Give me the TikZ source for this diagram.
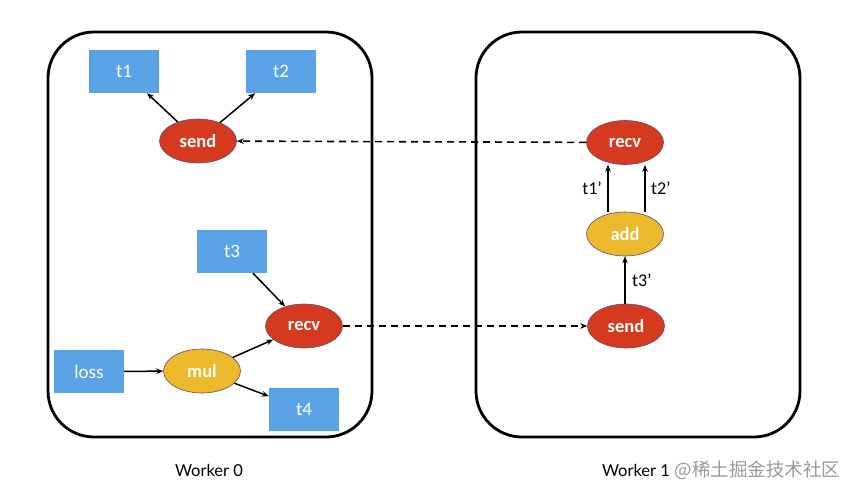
\documentclass[tikz,border=0pt]{standalone}
\usepackage{fontspec}
\setmainfont{Carlito}
\newfontfamily\latofont{Lato}
\newfontfamily\cjkfont{Noto Sans CJK SC}
\usetikzlibrary{arrows.meta,shapes.geometric}
\definecolor{tblue}{HTML}{5AA3E6}
\definecolor{tred}{HTML}{D63A1E}
\definecolor{tyellow}{HTML}{EBB92B}
\definecolor{tedge}{HTML}{6A4A6A}
\tikzset{
  worker/.style={draw=black,line width=2.8pt,rounded corners=46pt},
  tensor/.style={fill=tblue,text=white,minimum width=70pt,minimum height=43pt,inner sep=0pt,font=\fontsize{19}{21}\selectfont},
  opred/.style={ellipse,fill=tred,draw=tedge,line width=0.6pt,text=white,minimum width=77pt,minimum height=44pt,inner sep=0pt,font=\fontsize{18.5}{20}\selectfont\bfseries},
  opyel/.style={ellipse,fill=tyellow,draw=tedge,line width=0.6pt,text=white,minimum width=77pt,minimum height=44pt,inner sep=0pt,font=\fontsize{18.5}{20}\selectfont\bfseries},
  arr/.style={-{Stealth[length=7pt,width=5.5pt]},line width=1.5pt},
  darr/.style={-{Stealth[length=7pt,width=5.5pt]},line width=1.6pt,dash pattern=on 7pt off 5pt},
  lbl/.style={font=\fontsize{18}{20}\selectfont},
  wlbl/.style={font=\latofont\fontsize{16.5}{18}\selectfont}
}
\begin{document}
\begin{tikzpicture}[x=1pt,y=-1pt]
\useasboundingbox (0,0) rectangle (849,501);
\draw[worker] (48,32) rectangle (372,437);
\draw[worker] (476,32) rectangle (800,437);
% worker 0
\node[tensor] (t1) at (124,71.5) {t1};
\node[tensor] (t2) at (281,71.5) {t2};
\node[opred] (send0) at (198,141) {send};
\node[tensor] (t3) at (232,251.5) {t3};
\node[opred] (recv0) at (304,326) {recv};
\node[tensor] (loss) at (89,371.5) {loss};
\node[opyel] (mul) at (202,371) {mul};
\node[tensor] (t4) at (304,409.5) {t4};
% worker 1
\node[opred] (recv1) at (625,142.5) {recv};
\node[opyel] (add) at (625,234) {add};
\node[opred] (send1) at (626,326) {send};
% edges worker 0
\draw[arr] (send0) -- (t1);
\draw[arr] (send0) -- (t2);
\draw[arr] (t3) -- (recv0);
\draw[arr] (loss) -- (mul);
\draw[arr] (mul) -- (recv0);
\draw[arr] (mul) -- (t4);
% edges worker 1
\draw[arr] ([xshift=-17pt]add.north) -- ([xshift=-17pt]recv1.south) node[lbl,midway,left=2pt] {t1’};
\draw[arr] ([xshift=20pt]add.north) -- ([xshift=20pt]recv1.south) node[lbl,midway,right=2pt] {t2’};
\draw[arr] (send1.north -| add.north) -- (add) node[lbl,midway,right=3pt] {t3’};
% cross edges
\draw[darr] (recv1) -- (send0);
\draw[darr] (recv0) -- (send1);
% labels
\node[wlbl] (w0) at (209,470) {Worker 0};
\node[wlbl] (w1) at (636,470) {Worker 1};
\node[anchor=west,text=black!40,font=\cjkfont\fontsize{18.5}{20}\selectfont,inner sep=0pt] (wm) at ([xshift=1pt]w1.east) {@稀土掘金技术社区};
\end{tikzpicture}
\end{document}
